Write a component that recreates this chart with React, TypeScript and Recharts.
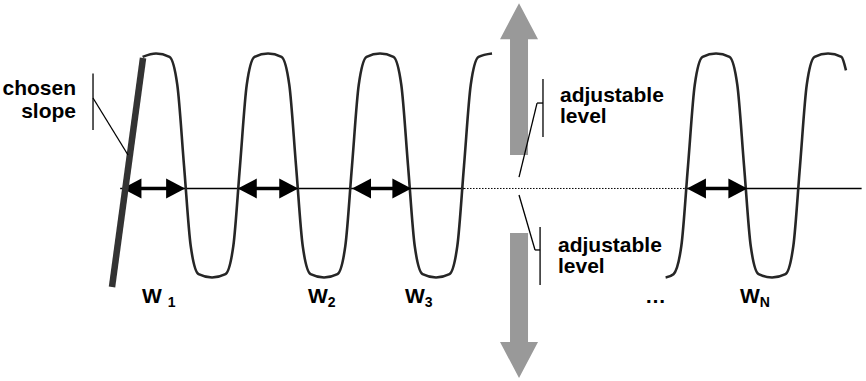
import { ComposedChart, Line, XAxis, YAxis, ReferenceLine, ReferenceDot } from 'recharts';

// time is measured in signal periods (peaks on whole numbers), amplitude is normalised to ±1
const leftTimes = [-0.12, 0, 0.12, 0.19, 0.25, 0.31, 0.38, 0.5, 0.62, 0.69, 0.75, 0.81, 0.88, 1, 1.12, 1.19, 1.25, 1.31, 1.38, 1.5, 1.62, 1.69, 1.75, 1.81, 1.88, 2, 2.12, 2.19, 2.25, 2.31, 2.38, 2.5, 2.62, 2.69, 2.75, 2.81, 2.88, 3];
const leftSignal = [0.97, 1, 0.97, 0.72, 0, -0.72, -0.97, -1, -0.97, -0.72, 0, 0.72, 0.97, 1, 0.97, 0.72, 0, -0.72, -0.97, -1, -0.97, -0.72, 0, 0.72, 0.97, 1, 0.97, 0.72, 0, -0.72, -0.97, -1, -0.97, -0.72, 0, 0.72, 0.97, 1];
const rightTimes = [4.55, 4.62, 4.69, 4.75, 4.81, 4.88, 5, 5.12, 5.19, 5.25, 5.31, 5.38, 5.5, 5.62, 5.69, 5.75, 5.81, 5.88, 6, 6.12, 6.16];
const rightSignal = [-1, -0.97, -0.72, 0, 0.72, 0.97, 1, 0.97, 0.72, 0, -0.72, -0.97, -1, -0.97, -0.72, 0, 0.72, 0.97, 1, 0.97, 0.85];

const level = -0.205;
const levelSolid = [[-0.32, 2.75], [4.72, 6.3]];
const levelDotted = [2.75, 4.72];

// W1, W2, W3, WN spans on the level line
const widthSpans = [[-0.3, 0.26], [0.73, 1.27], [1.75, 2.28], [4.74, 5.28]];
const widthNames = ['W ', 'W', 'W', 'W'];
const widthSubs = ['1', '2', '3', 'N'];
const widthLabelT = [-0.125, 1.357, 2.223, 5.214];
const widthLabelV = -1.228;
const ellipsisT = 4.366;

const slopeLine = [{ x: -0.116, y: 0.96 }, { x: -0.393, y: -1.085 }];

const levelArrowT = 3.241;
const upArrow = [0.094, 1.45];
const downArrow = [-0.603, -1.897];

const callouts = [
  [[-0.5625, 0.821], [-0.5625, 0.317]],
  [[-0.5625, 0.603], [-0.25, 0.094]],
  [[3.455, 0.772], [3.455, 0.254]],
  [[3.402, 0.558], [3.455, 0.558]],
  [[3.402, 0.558], [3.241, -0.103]],
  [[3.429, -0.549], [3.429, -1.067]],
  [[3.384, -0.754], [3.429, -0.754]],
  [[3.241, -0.263], [3.384, -0.754]],
];

const notes = [
  { t: -0.714, v: 0.629, text: 'chosen', anchor: 'end' },
  { t: -0.714, v: 0.424, text: 'slope', anchor: 'end' },
  { t: 3.607, v: 0.567, text: 'adjustable', anchor: 'start' },
  { t: 3.607, v: 0.379, text: 'level', anchor: 'start' },
  { t: 3.589, v: -0.772, text: 'adjustable', anchor: 'start' },
  { t: 3.589, v: -0.96, text: 'level', anchor: 'start' },
];

const leftWave = leftTimes.map((t, i) => ({ t, v: leftSignal[i] }));
const rightWave = rightTimes.map((t, i) => ({ t, v: rightSignal[i] }));

const font = '"Liberation Sans", Arial, sans-serif';

const DoubleArrow = (p: any) => {
  const { x1, y1, x2, y2 } = p;
  const h = 10;
  const l = 19;
  return (
    <g>
      <line x1={x1 + l - 2} y1={y1} x2={x2 - l + 2} y2={y2} stroke="#000" strokeWidth={3.5} />
      <polygon points={`${x1},${y1} ${x1 + l},${y1 - h} ${x1 + l},${y1 + h}`} fill="#000" />
      <polygon points={`${x2},${y2} ${x2 - l},${y2 - h} ${x2 - l},${y2 + h}`} fill="#000" />
    </g>
  );
};

const BlockArrow = (p: any) => {
  const { x1, y1, x2, y2 } = p;
  const dir = y2 < y1 ? -1 : 1;
  const hb = y2 - dir * 36;
  const sw = 9;
  const hw = 19;
  const pts = [
    [x1 - sw, y1], [x1 - sw, hb], [x1 - hw, hb], [x2, y2],
    [x1 + hw, hb], [x1 + sw, hb], [x1 + sw, y1],
  ].map((q) => q.join(',')).join(' ');
  return <polygon points={pts} fill="#999999" />;
};

export default function App() {
  return (
    <div style={{ position: 'absolute', left: 0, top: 0, background: '#fff' }}>
      <ComposedChart width={866} height={381} margin={{ top: 0, right: 0, bottom: 0, left: 0 }}>
        <XAxis type="number" dataKey="t" domain={[-1.393, 6.339]} allowDataOverflow hide />
        <YAxis type="number" domain={[-1.924, 1.478]} allowDataOverflow hide />

        {levelSolid.map(([a, b], i) => (
          <ReferenceLine key={`ls${i}`} segment={[{ x: a, y: level }, { x: b, y: level }]} stroke="#000" strokeWidth={1.5} ifOverflow="visible" />
        ))}
        <ReferenceLine segment={[{ x: levelDotted[0], y: level }, { x: levelDotted[1], y: level }]} stroke="#000" strokeWidth={1} strokeDasharray="1.5 1.5" ifOverflow="visible" />

        <Line data={leftWave} dataKey="v" type="monotone" stroke="#262626" strokeWidth={2.6} strokeLinecap="butt" dot={false} activeDot={false} isAnimationActive={false} />
        <Line data={rightWave} dataKey="v" type="monotone" stroke="#262626" strokeWidth={2.6} strokeLinecap="butt" dot={false} activeDot={false} isAnimationActive={false} />

        {widthSpans.map(([a, b], i) => (
          <ReferenceLine key={`w${i}`} segment={[{ x: a, y: level }, { x: b, y: level }]} shape={DoubleArrow} ifOverflow="visible" />
        ))}

        <ReferenceLine segment={slopeLine} stroke="#333" strokeWidth={6.5} ifOverflow="visible" />

        <ReferenceLine segment={[{ x: levelArrowT, y: upArrow[0] }, { x: levelArrowT, y: upArrow[1] }]} shape={BlockArrow} ifOverflow="visible" />
        <ReferenceLine segment={[{ x: levelArrowT, y: downArrow[0] }, { x: levelArrowT, y: downArrow[1] }]} shape={BlockArrow} ifOverflow="visible" />

        {callouts.map(([a, b], i) => (
          <ReferenceLine key={`c${i}`} segment={[{ x: a[0], y: a[1] }, { x: b[0], y: b[1] }]} stroke="#000" strokeWidth={1.3} ifOverflow="visible" />
        ))}

        {notes.map((n, i) => (
          <ReferenceDot
            key={`n${i}`}
            x={n.t}
            y={n.v}
            ifOverflow="visible"
            shape={(p: any) => (
              <text x={p.cx} y={p.cy} textAnchor={n.anchor as any} fontFamily={font} fontWeight="bold" fontSize={21} fill="#000">
                {n.text}
              </text>
            )}
          />
        ))}

        {widthLabelT.map((t, i) => (
          <ReferenceDot
            key={`wl${i}`}
            x={t}
            y={widthLabelV}
            ifOverflow="visible"
            shape={(p: any) => (
              <text x={p.cx} y={p.cy} fontFamily={font} fontWeight="bold" fontSize={21} fill="#000" style={{ whiteSpace: 'pre' }}>
                <tspan>{widthNames[i]}</tspan>
                <tspan fontSize={14} dy={4}>{widthSubs[i]}</tspan>
              </text>
            )}
          />
        ))}
        <ReferenceDot
          x={ellipsisT}
          y={widthLabelV}
          ifOverflow="visible"
          shape={(p: any) => (
            <text x={p.cx} y={p.cy} fontFamily={font} fontWeight="bold" fontSize={21} fill="#000">…</text>
          )}
        />
      </ComposedChart>
    </div>
  );
}
